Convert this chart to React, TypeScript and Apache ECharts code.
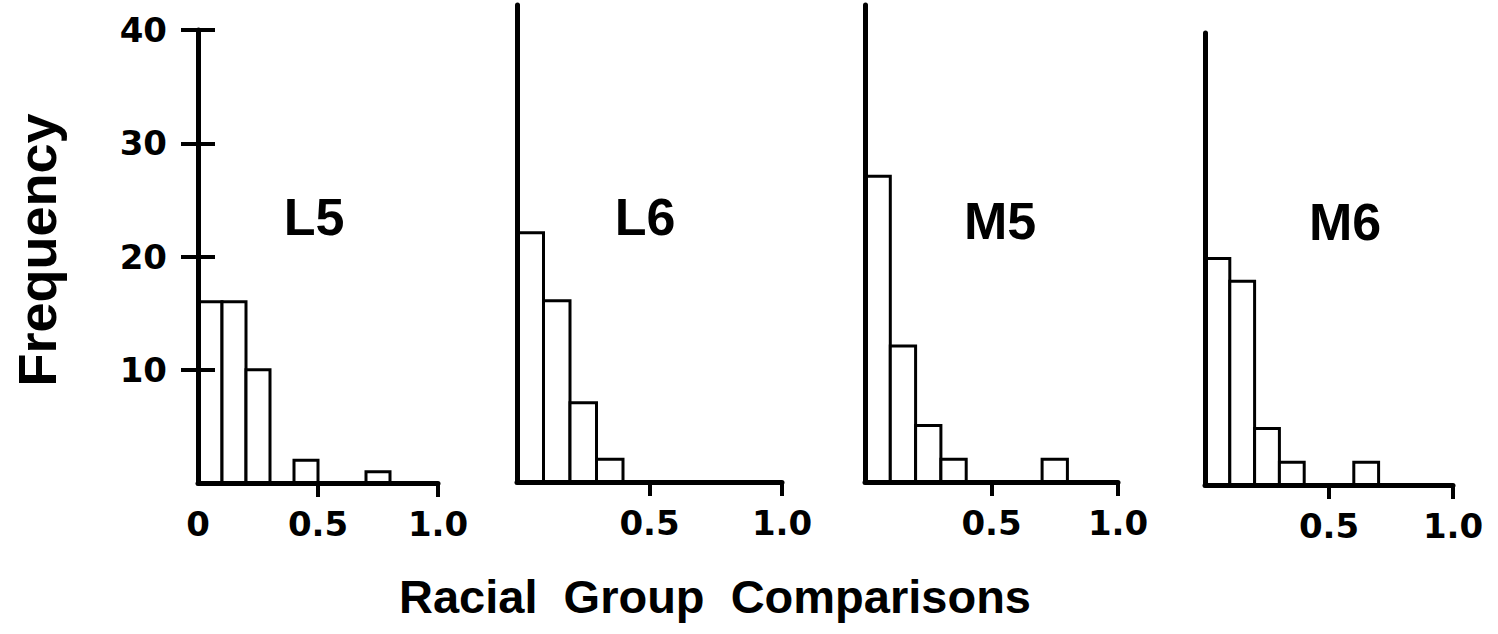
import React, { useEffect, useRef } from "react";
import * as echarts from "echarts";

// Histogram bins (racial group comparison index) and counts per sample
const binEdges = [0, 0.1, 0.2, 0.3, 0.4, 0.5, 0.6, 0.7, 0.8, 0.9, 1.0];
const panelNames = ["L5", "L6", "M5", "M6"];
const l5Counts = [16, 16, 10, 0, 2, 0, 0, 1, 0, 0];
const l6Counts = [22, 16, 7, 2, 0, 0, 0, 0, 0, 0];
const m5Counts = [27, 12, 5, 2, 0, 0, 0, 2, 0, 0];
const m6Counts = [20, 18, 5, 2, 0, 0, 2, 0, 0, 0];
const yLabels = [10, 20, 30, 40];
const xLabels = [0.5, 1.0];
const xLabelsFirst = [0, 0.5, 1.0];

const allCounts = [l5Counts, l6Counts, m5Counts, m6Counts];

// Pixel layout of each small panel: plot box and label position
const panelBoxes = [
  { left: 198, right: 438, top: 30, bottom: 483, labelX: 314, labelY: 217 },
  { left: 517, right: 782, top: 5, bottom: 482, labelX: 645, labelY: 217 },
  { left: 865, right: 1118, top: 5, bottom: 482, labelX: 1000, labelY: 221 },
  { left: 1205, right: 1453, top: 33, bottom: 485, labelX: 1345, labelY: 222 },
];
const PX_PER_UNIT = (panelBoxes[0].bottom - panelBoxes[0].top) / 40;
const Y_TICK_HALF = 17; // frequency ticks cross the axis
const X_TICK_LEN = 14;

const INK = "#000";
const TICK_FONT = "DejaVu Sans";

function renderBin(params: any, api: any) {
  const x0 = api.value(0);
  const x1 = api.value(1);
  const n = api.value(2);
  const topLeft = api.coord([x0, n]);
  const bottomRight = api.coord([x1, 0]);
  return {
    type: "rect",
    shape: {
      x: topLeft[0],
      y: topLeft[1],
      width: bottomRight[0] - topLeft[0],
      height: bottomRight[1] - topLeft[1],
    },
    style: { fill: "#fff", stroke: INK, lineWidth: 3 },
  };
}

const hidden = {
  axisLine: { show: false },
  axisTick: { show: false },
  axisLabel: { show: false },
};

export default function App() {
  const ref = useRef<HTMLDivElement>(null);

  useEffect(() => {
    if (!ref.current) return;
    const chart = echarts.init(ref.current, null, { renderer: "svg" });

    const grids: any[] = [];
    const xAxes: any[] = [];
    const yAxes: any[] = [];

    // main plot boxes
    panelBoxes.forEach((b, i) => {
      grids.push({
        left: b.left,
        top: b.top,
        width: b.right - b.left,
        height: b.bottom - b.top,
        containLabel: false,
        outerBoundsMode: "none",
      });
      xAxes.push({
        type: "value",
        gridIndex: i,
        position: "bottom",
        min: 0,
        max: 1,
        interval: 0.5,
        z: 5,
        splitLine: { show: false },
        axisLine: { show: true, lineStyle: { color: INK, width: 5, cap: "round" } },
        axisTick: { show: false },
        axisLabel: {
          show: true,
          margin: 24,
          customValues: i === 0 ? xLabelsFirst : xLabels,
          formatter: (v: number) => (v === 0 ? "0" : v.toFixed(1)),
          color: INK,
          fontFamily: TICK_FONT,
          fontWeight: "bold",
          fontSize: 34,
        },
      });
      yAxes.push({
        type: "value",
        gridIndex: i,
        position: "left",
        min: 0,
        max: i === 0 ? 40 : (b.bottom - b.top) / PX_PER_UNIT,
        interval: 10,
        z: 5,
        splitLine: { show: false },
        axisLine: { show: true, lineStyle: { color: INK, width: 5, cap: "round" } },
        axisTick: { show: false },
        axisLabel: {
          show: i === 0,
          margin: 31,
          customValues: yLabels,
          color: INK,
          fontFamily: TICK_FONT,
          fontWeight: "bold",
          fontSize: 34,
        },
      });
    });

    // crossing tick marks on the frequency axis (split lines of a narrow strip)
    const f = panelBoxes[0];
    const yTickGrid = grids.length;
    grids.push({
      left: f.left - Y_TICK_HALF,
      top: f.top,
      width: Y_TICK_HALF * 2,
      height: f.bottom - f.top,
      containLabel: false,
      outerBoundsMode: "none",
    });
    xAxes.push({ type: "value", gridIndex: yTickGrid, min: 0, max: 1, splitLine: { show: false }, ...hidden });
    yAxes.push({
      type: "value",
      gridIndex: yTickGrid,
      min: 0,
      max: 40,
      interval: 10,
      z: 6,
      ...hidden,
      splitLine: {
        show: true,
        showMinLine: false,
        showMaxLine: true,
        lineStyle: { color: INK, width: 4, type: "solid" },
      },
    });

    // downward ticks at 0.5 and 1.0 under each panel
    panelBoxes.forEach((b) => {
      const g = grids.length;
      grids.push({
        left: b.left,
        top: b.bottom,
        width: b.right - b.left,
        height: X_TICK_LEN,
        containLabel: false,
        outerBoundsMode: "none",
      });
      xAxes.push({
        type: "value",
        gridIndex: g,
        min: 0,
        max: 1,
        interval: 0.5,
        z: 6,
        ...hidden,
        splitLine: {
          show: true,
          showMinLine: false,
          showMaxLine: true,
          lineStyle: { color: INK, width: 4, type: "solid" },
        },
      });
      yAxes.push({ type: "value", gridIndex: g, min: 0, max: 1, splitLine: { show: false }, ...hidden });
    });

    const series = allCounts.map((counts, i) => ({
      type: "custom",
      xAxisIndex: i,
      yAxisIndex: i,
      z: 2,
      renderItem: renderBin,
      encode: { x: [0, 1], y: 2 },
      data: counts
        .map((n, k) => [binEdges[k], binEdges[k + 1], n])
        .filter((d) => d[2] > 0),
    }));

    const panelLabels = panelBoxes.map((b, i) => ({
      type: "text",
      x: b.labelX,
      y: b.labelY,
      style: {
        text: panelNames[i],
        fill: INK,
        font: "bold 52px 'Liberation Sans'",
        textAlign: "center",
        textVerticalAlign: "middle",
      },
    }));

    chart.setOption({
      animation: false,
      backgroundColor: "#fff",
      grid: grids,
      xAxis: xAxes,
      yAxis: yAxes,
      series,
      graphic: [
        ...panelLabels,
        {
          type: "text",
          x: 37,
          y: 250,
          rotation: Math.PI / 2,
          style: {
            text: "Frequency",
            fill: INK,
            font: "bold 54px 'Liberation Sans'",
            textAlign: "center",
            textVerticalAlign: "middle",
          },
        },
        {
          type: "text",
          x: 715,
          y: 596,
          style: {
            text: "Racial  Group  Comparisons",
            fill: INK,
            font: "bold 47px 'Liberation Sans'",
            textAlign: "center",
            textVerticalAlign: "middle",
          },
        },
      ],
    });

    return () => chart.dispose();
  }, []);

  return (
    <div
      ref={ref}
      style={{ position: "absolute", left: 0, top: 0, width: 1498, height: 634 }}
    />
  );
}
